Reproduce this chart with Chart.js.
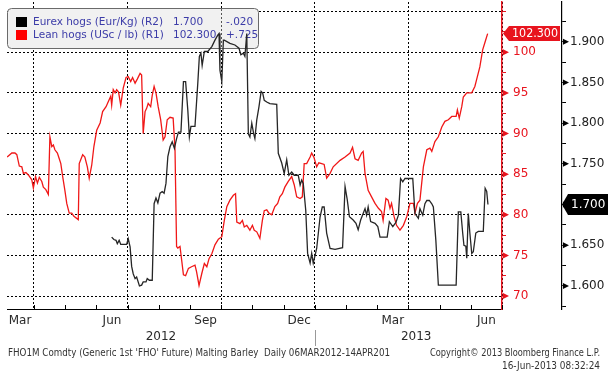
<!DOCTYPE html>
<html>
<head>
<meta charset="utf-8">
<title>Eurex hogs vs Lean hogs</title>
<script src="https://cdn.jsdelivr.net/npm/chart.js@4.4.1/dist/chart.umd.min.js"></script>
<style>
    html, body { margin: 0; padding: 0; background: #fff; }
    canvas { display: block; }
</style>
</head>
<body>
<canvas id="hogChart" width="612" height="380"></canvas>
<script>

// x values are months since 1 Mar 2012
const leanT = [0.14,0.29,0.39,0.45,0.53,0.61,0.66,0.74,0.82,0.93,
    0.98,1.05,1.11,1.17,1.25,1.30,1.38,1.46,1.51,1.57,
    1.62,1.67,1.75,1.81,1.86,1.92,1.99,2.05,2.13,2.21,
    2.28,2.42,2.45,2.56,2.63,2.71,2.77,2.85,2.92,3.01,
    3.12,3.20,3.31,3.38,3.46,3.49,3.54,3.60,3.65,3.71,
    3.78,3.86,3.95,4.02,4.10,4.16,4.24,4.31,4.40,4.45,
    4.50,4.56,4.61,4.66,4.74,4.79,4.85,4.91,4.98,5.06,
    5.14,5.20,5.27,5.36,5.46,5.52,5.57,5.61,5.68,5.79,
    5.86,5.95,6.05,6.16,6.21,6.29,6.38,6.46,6.54,6.61,
    6.70,6.80,6.91,7.02,7.10,7.18,7.28,7.39,7.46,7.50,
    7.60,7.68,7.74,7.82,7.92,8.00,8.06,8.14,8.24,8.32,
    8.38,8.46,8.53,8.62,8.72,8.81,8.88,8.96,9.04,9.15,
    9.26,9.34,9.42,9.53,9.60,9.66,9.74,9.85,9.90,9.97,
    10.06,10.13,10.22,10.30,10.38,10.49,10.59,10.81,10.97,11.13,
    11.21,11.29,11.39,11.50,11.55,11.61,11.71,11.82,11.93,12.04,
    12.14,12.19,12.28,12.35,12.41,12.46,12.54,12.62,12.73,12.84,
    12.95,13.05,13.16,13.21,13.29,13.37,13.48,13.59,13.69,13.75,
    13.85,13.96,14.07,14.17,14.28,14.39,14.53,14.57,14.63,14.71,
    14.76,14.87,15.03,15.13,15.19,15.29,15.38,15.46,15.54];

const leanV = [87.1,87.6,87.6,87.4,86.0,85.9,85.1,85.2,84.9,84.3,
    83.3,84.7,83.9,84.6,84.1,83.4,83.1,82.5,89.6,88.4,
    88.6,88.0,87.6,86.9,86.3,84.7,83.0,81.4,80.2,80.2,
    79.8,79.4,86.3,87.4,87.1,85.9,84.5,86.1,88.4,90.4,
    91.3,92.7,93.3,93.9,94.6,93.5,95.4,95.0,95.4,95.1,
    93.5,95.6,96.9,97.0,96.4,96.9,96.2,96.7,97.4,97.2,
    90.0,92.7,93.1,93.7,93.3,94.7,95.8,95.0,93.3,91.7,
    89.2,89.6,91.7,92.0,91.9,88.0,76.1,75.9,76.1,72.6,
    72.5,73.4,73.6,73.8,73.0,71.3,72.8,74.0,73.6,74.6,
    75.2,76.3,77.0,77.3,79.3,81.0,81.8,82.4,82.6,79.1,
    78.9,79.3,78.5,78.7,78.1,78.7,78.1,77.9,77.1,79.3,
    80.5,80.6,80.2,80.0,81.0,81.4,82.2,82.6,83.4,84.1,
    84.7,83.7,82.2,82.0,82.2,86.3,86.3,87.1,87.6,87.1,
    85.9,86.4,86.3,86.2,84.5,85.1,85.9,86.7,87.1,87.6,
    88.3,86.9,86.7,87.6,87.8,85.1,83.0,82.2,81.4,80.8,
    80.4,79.3,82.0,81.8,80.8,81.4,79.8,78.7,78.1,78.7,
    79.8,81.4,81.4,80.2,81.4,81.8,85.9,88.0,88.2,87.8,
    89.0,89.6,90.8,91.5,91.7,92.1,92.1,92.9,91.9,93.3,
    94.5,95.0,95.0,95.8,96.7,98.2,100.3,101.3,102.3];

const eurexT = [3.49,3.56,3.63,3.67,3.73,3.78,3.97,4.02,4.08,4.13,
    4.18,4.24,4.29,4.38,4.45,4.50,4.59,4.63,4.70,4.79,
    4.85,4.91,4.97,5.04,5.11,5.17,5.23,5.29,5.36,5.43,
    5.50,5.57,5.63,5.71,5.79,5.86,5.93,5.98,6.03,6.16,
    6.25,6.30,6.35,6.39,6.46,6.57,6.70,6.80,6.89,6.93,
    6.96,7.02,7.07,7.10,7.28,7.44,7.57,7.63,7.71,7.76,
    7.82,7.87,7.92,7.98,8.04,8.08,8.14,8.21,8.28,8.33,
    8.38,8.46,8.56,8.78,8.83,8.94,9.02,9.10,9.17,9.26,
    9.34,9.47,9.53,9.58,9.63,9.71,9.77,9.85,9.90,9.95,
    10.06,10.17,10.24,10.30,10.38,10.49,10.65,10.89,10.97,11.04,
    11.11,11.23,11.32,11.39,11.47,11.55,11.61,11.66,11.71,11.79,
    11.93,12.02,12.09,12.32,12.39,12.50,12.60,12.68,12.75,12.82,
    12.89,13.14,13.21,13.32,13.37,13.46,13.53,13.59,13.67,13.75,
    13.80,13.88,13.96,14.53,14.60,14.68,14.74,14.78,14.84,14.87,
    14.92,14.97,15.03,15.08,15.16,15.24,15.40,15.46,15.51,15.55];

const eurexV = [1.660,1.657,1.656,1.652,1.656,1.651,1.651,1.658,1.648,1.624,
    1.615,1.609,1.611,1.600,1.601,1.605,1.605,1.609,1.607,1.607,
    1.701,1.708,1.702,1.714,1.716,1.714,1.726,1.759,1.771,1.777,
    1.769,1.781,1.789,1.789,1.851,1.851,1.816,1.783,1.796,1.796,
    1.849,1.882,1.886,1.871,1.888,1.888,1.894,1.902,1.908,1.910,
    1.865,1.851,1.902,1.902,1.898,1.896,1.892,1.884,1.886,1.882,
    1.910,1.787,1.783,1.800,1.787,1.781,1.804,1.820,1.839,1.837,
    1.828,1.826,1.824,1.823,1.763,1.751,1.738,1.755,1.736,1.740,
    1.736,1.736,1.724,1.730,1.726,1.693,1.640,1.628,1.640,1.628,
    1.646,1.685,1.697,1.697,1.665,1.646,1.645,1.647,1.722,1.706,
    1.685,1.681,1.677,1.669,1.681,1.689,1.695,1.687,1.697,1.679,
    1.677,1.673,1.660,1.660,1.679,1.673,1.678,1.687,1.732,1.728,
    1.732,1.732,1.689,1.683,1.695,1.687,1.701,1.705,1.705,1.701,
    1.697,1.656,1.601,1.601,1.691,1.691,1.665,1.650,1.649,1.634,
    1.689,1.665,1.640,1.642,1.665,1.667,1.667,1.720,1.716,1.700];

const seriesNames = ["Eurex hogs (Eur/Kg) (R2)", "Lean hogs (USc / lb) (R1)"];
const lastValues = ["1.700", "102.300"];
const changes = ["-.020", "+.725"];

const monthNames = ["Mar", "Jun", "Sep", "Dec", "Mar", "Jun"];
const monthStarts = [0, 3, 6, 9, 12, 15];
const yearNames = ["2012", "2013"];
const yearStarts = [0, 10];

const footerLeft = "FHO1M Comdty (Generic 1st 'FHO' Future) Malting Barley  Daily 06MAR2012-14APR201";
const footerRight = ["Copyright\u00a9 2013 Bloomberg Finance L.P.", "16-Jun-2013 08:32:24"];

const FONT = "'DejaVu Sans', sans-serif";
const RED = "#e8141e";
const LINE_RED = "#f01818";
const INK = "#262626";

function toPoints(xs, ys) {
    return xs.map((x, i) => ({ x: x, y: ys[i] }));
}

function pointer(ctx, x, y, color) {
    ctx.fillStyle = color;
    ctx.beginPath();
    ctx.moveTo(x, y - 3);
    ctx.lineTo(x + 6, y);
    ctx.lineTo(x, y + 3);
    ctx.closePath();
    ctx.fill();
}

function valueTag(ctx, x, y, right, half, color, text, size) {
    ctx.fillStyle = color;
    ctx.beginPath();
    ctx.moveTo(x, y);
    ctx.lineTo(x + 6, y - half);
    ctx.lineTo(right, y - half);
    ctx.lineTo(right, y + half);
    ctx.lineTo(x + 6, y + half);
    ctx.closePath();
    ctx.fill();
    ctx.fillStyle = "#fff";
    ctx.font = size + "px " + FONT;
    ctx.textAlign = "left";
    ctx.textBaseline = "middle";
    ctx.fillText(text, x + 9, y + 0.5, right - x - 11);
}

const decor = {

    id: "decor",

    beforeDatasetsDraw(chart) {

        const ctx = chart.ctx;
        const xs = chart.scales.x;
        const area = chart.chartArea;

        ctx.save();

        // month tick marks
        ctx.strokeStyle = "#000";
        ctx.lineWidth = 1;
        for (let m = 1; m <= 16; m++) {
            const px = Math.round(xs.getPixelForValue(m)) + 0.5;
            ctx.beginPath();
            ctx.moveTo(px, area.bottom);
            ctx.lineTo(px, area.bottom - 4);
            ctx.stroke();
        }

        // legend box
        ctx.fillStyle = "#f1f1f1";
        ctx.strokeStyle = "#6a6a6a";
        ctx.beginPath();
        ctx.roundRect(7.5, 8.5, 251, 40, 4);
        ctx.fill();
        ctx.stroke();

        ctx.fillStyle = "#000";
        ctx.fillRect(16, 17, 11, 10);
        ctx.fillStyle = "#ff0000";
        ctx.fillRect(16, 30, 11, 10);

        const sep = Math.round(xs.getPixelForValue(7)) + 0.5;
        ctx.strokeStyle = "#555";
        ctx.setLineDash([2, 2]);
        ctx.beginPath();
        ctx.moveTo(sep, 9);
        ctx.lineTo(sep, 48);
        ctx.stroke();
        ctx.setLineDash([]);

        ctx.fillStyle = "#3c3ca8";
        ctx.font = "10.5px " + FONT;
        ctx.textAlign = "left";
        ctx.textBaseline = "middle";
        [22, 35].forEach((y, i) => {
            ctx.fillText(seriesNames[i], 33, y, 132);
            ctx.fillText(lastValues[i], 173, y);
            ctx.fillText(changes[i], 226, y);
        });

        ctx.restore();

    },

    afterDraw(chart) {

        const ctx = chart.ctx;
        const xs = chart.scales.x;
        const yR = chart.scales.yR;
        const yB = chart.scales.yB;

        ctx.save();

        // axis pointers
        for (let v = 70; v <= 100; v += 5) {
            pointer(ctx, yR.left + 1, yR.getPixelForValue(v), RED);
        }
        for (let v = 1.6; v <= 1.9001; v += 0.05) {
            pointer(ctx, yB.left + 1, yB.getPixelForValue(v), "#000");
        }

        // last value tags
        valueTag(ctx, yR.left + 1, yR.getPixelForValue(leanV[leanV.length - 1]), 560, 7.5, RED, lastValues[1], 11.5);
        valueTag(ctx, yB.left, yB.getPixelForValue(eurexV[eurexV.length - 1]), 608, 10.5, "#000", lastValues[0], 12);

        // month and year labels
        ctx.fillStyle = "#2a2a2a";
        ctx.font = "12px " + FONT;
        ctx.textAlign = "center";
        ctx.textBaseline = "middle";
        monthNames.forEach((name, i) => {
            const cx = Math.max(xs.getPixelForValue(monthStarts[i] + 0.5), 20);
            ctx.fillText(name, cx, 321);
        });

        const yearEnds = [yearStarts[1], xs.max + 0.5];
        yearNames.forEach((name, i) => {
            const a = Math.max(yearStarts[i], xs.min);
            ctx.fillText(name, xs.getPixelForValue((a + yearEnds[i]) / 2), 337);
        });

        const yx = Math.round(xs.getPixelForValue(yearStarts[1])) + 0.5;
        ctx.strokeStyle = "#999";
        ctx.lineWidth = 1;
        ctx.beginPath();
        ctx.moveTo(yx, 330);
        ctx.lineTo(yx, 346);
        ctx.stroke();

        // footer
        ctx.fillStyle = "#333";
        ctx.font = "10px " + FONT;
        ctx.textAlign = "left";
        ctx.fillText(footerLeft, 8, 353, 382);
        ctx.textAlign = "right";
        ctx.fillText(footerRight[0], 600, 353, 170);
        ctx.fillText(footerRight[1], 600, 366, 98);

        ctx.restore();

    }

};

const HogChart = {

    chart: null,

    init() {

        const ctx = document.getElementById("hogChart");

        this.chart = new Chart(ctx, {
            type: "line",
            data: {
                datasets: [{
                    label: seriesNames[0],
                    data: toPoints(eurexT, eurexV),
                    yAxisID: "yB",
                    borderColor: INK,
                    borderWidth: 1.3,
                    pointRadius: 0,
                    tension: 0
                }, {
                    label: seriesNames[1],
                    data: toPoints(leanT, leanV),
                    yAxisID: "yR",
                    borderColor: LINE_RED,
                    borderWidth: 1.3,
                    pointRadius: 0,
                    tension: 0
                }]
            },
            options: {
                responsive: false,
                animation: false,
                devicePixelRatio: 1,
                layout: {
                    padding: { left: 7, top: 2, right: 0, bottom: 0 }
                },
                plugins: {
                    legend: { display: false },
                    tooltip: { enabled: false }
                },
                scales: {
                    x: {
                        type: "linear",
                        position: "bottom",
                        min: 0.135,
                        max: 16,
                        afterFit: s => {
                            s.height = 71;
                            s.paddingLeft = 0;
                            s.paddingRight = 0;
                        },
                        ticks: {
                            display: false,
                            stepSize: 1,
                            includeBounds: false,
                            autoSkip: false
                        },
                        grid: {
                            color: c => (c.tick && (c.tick.value - 1) % 3 === 0) ? "#000" : "rgba(0,0,0,0)",
                            lineWidth: 1,
                            drawTicks: false
                        },
                        border: { color: "#000", width: 1, dash: [2, 2] }
                    },
                    yR: {
                        type: "linear",
                        position: "right",
                        weight: 0,
                        min: 68.4,
                        max: 106.19,
                        afterFit: s => {
                            s.width = 60;
                            s.paddingTop = 0;
                            s.paddingBottom = 0;
                        },
                        ticks: {
                            stepSize: 2.5,
                            includeBounds: false,
                            autoSkip: false,
                            color: RED,
                            padding: 7,
                            font: { family: FONT, size: 12 },
                            callback: v => (v % 5 === 0 && v <= 100) ? String(v) : ""
                        },
                        grid: {
                            color: c => (c.tick && c.tick.value % 5 === 0) ? "#000" : "rgba(0,0,0,0)",
                            lineWidth: 1,
                            tickLength: 4,
                            tickColor: RED,
                            tickWidth: 1
                        },
                        border: { color: RED, width: 1.5, dash: [2, 2] }
                    },
                    yB: {
                        type: "linear",
                        position: "right",
                        weight: 1,
                        min: 1.5717,
                        max: 1.9488,
                        afterFit: s => {
                            s.width = 50;
                            s.paddingTop = 0;
                            s.paddingBottom = 0;
                        },
                        ticks: {
                            stepSize: 0.025,
                            includeBounds: false,
                            autoSkip: false,
                            color: "#222",
                            padding: 4,
                            font: { family: FONT, size: 12 },
                            callback: v => (Math.round(v * 1000) % 50 === 0) ? v.toFixed(3) : ""
                        },
                        grid: {
                            drawOnChartArea: false,
                            tickLength: 4,
                            tickColor: "#000",
                            tickWidth: 1
                        },
                        border: { color: "#000", width: 1.2 }
                    }
                }
            },
            plugins: [decor]
        });

    }

};

HogChart.init();

</script>
</body>
</html>
